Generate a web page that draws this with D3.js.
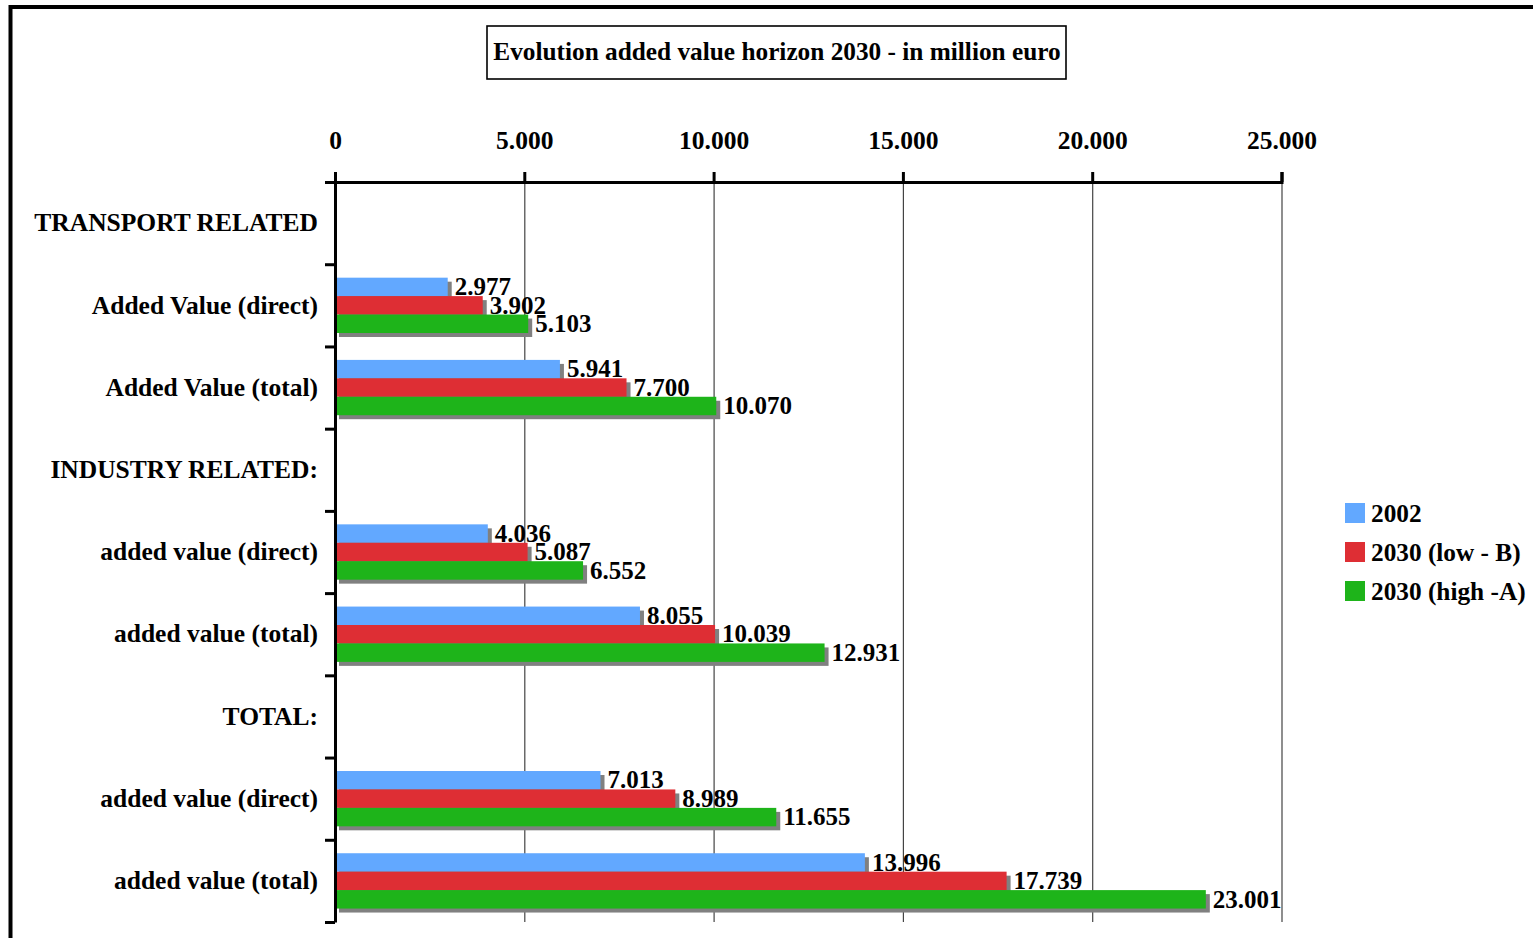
<!DOCTYPE html>
<html>
<head>
<meta charset="utf-8">
<script src="https://cdn.jsdelivr.net/npm/d3@7"></script>
<style>
  html, body { margin: 0; padding: 0; background: #fff; }
  svg { display: block; }
  text { font-family: "Liberation Serif", "Times New Roman", serif; font-weight: bold; fill: #000; }
</style>
</head>
<body>
<svg id="chart" width="1533" height="938"></svg>
<script>
// Row labels (top to bottom); header rows carry no bars
const categories = [
  "TRANSPORT RELATED",
  "Added Value (direct)",
  "Added Value (total)",
  "INDUSTRY RELATED:",
  "added value (direct)",
  "added value (total)",
  "TOTAL:",
  "added value (direct)",
  "added value (total)"
];
const seriesNames = ["2002", "2030 (low - B)", "2030 (high -A)"];
const values2002 = [null, 2977, 5941, null, 4036, 8055, null, 7013, 13996];
const valuesLow  = [null, 3902, 7700, null, 5087, 10039, null, 8989, 17739];
const valuesHigh = [null, 5103, 10070, null, 6552, 12931, null, 11655, 23001];
const xTicks = [0, 5000, 10000, 15000, 20000, 25000];
const titleText = "Evolution added value horizon 2030 - in million euro";

const seriesValues = [values2002, valuesLow, valuesHigh];
const colors = ["#62a8ff", "#de2e34", "#1eb41a"];

const svg = d3.select("#chart");

// European number format: 12.931
const fmt = d3.formatLocale({ decimal: ",", thousands: ".", grouping: [3], currency: ["", " €"] }).format(",d");

// Outer chart frame
svg.append("rect")
  .attr("x", 10.5).attr("y", 7)
  .attr("width", 1600).attr("height", 1000)
  .attr("fill", "none").attr("stroke", "#000").attr("stroke-width", 4);

// Title box
const tg = svg.append("g");
tg.append("rect")
  .attr("x", 487).attr("y", 26).attr("width", 579).attr("height", 53)
  .attr("fill", "#fff").attr("stroke", "#000").attr("stroke-width", 1.6);
tg.append("text")
  .attr("x", 777).attr("y", 60)
  .attr("text-anchor", "middle")
  .attr("font-size", 25.3)
  .text(titleText);

// Plot geometry
const plotLeft = 335, plotRight = 1281.5, plotTop = 182, plotBottom = 922;

const x = d3.scaleLinear().domain([0, 25000]).range([plotLeft, plotRight]);
const idx = d3.range(categories.length);
const y = d3.scaleBand().domain(idx).range([plotTop, plotBottom]).padding(0);
const ySeries = d3.scaleBand().domain(d3.range(seriesNames.length))
  .range([0, y.bandwidth()]).paddingInner(0).paddingOuter(0.73);
const yEdges = d3.scaleLinear().domain([0, categories.length]).range([plotTop, plotBottom]);

// Vertical gridlines
svg.append("g")
  .attr("transform", `translate(0,${plotTop})`)
  .call(d3.axisTop(x).tickValues(xTicks).tickSize(-(plotBottom - plotTop)).tickFormat(""))
  .call(g => g.select(".domain").remove())
  .call(g => g.selectAll("line").attr("stroke", "#444").attr("stroke-width", 1.2));

// Bars with drop shadows, one series at a time
const shadow = 4;
seriesValues.forEach((vals, s) => {
  const data = idx.filter(i => vals[i] != null).map(i => ({ i, v: vals[i] }));
  const g = svg.append("g");
  g.selectAll("rect.shadow").data(data).join("rect")
    .attr("class", "shadow")
    .attr("x", x(0) + shadow)
    .attr("y", d => y(d.i) + ySeries(s) + shadow)
    .attr("width", d => x(d.v) - x(0))
    .attr("height", ySeries.bandwidth())
    .attr("fill", "#808080");
  g.selectAll("rect.bar").data(data).join("rect")
    .attr("class", "bar")
    .attr("x", x(0))
    .attr("y", d => y(d.i) + ySeries(s))
    .attr("width", d => x(d.v) - x(0))
    .attr("height", ySeries.bandwidth())
    .attr("fill", colors[s]);
});

// Value labels
seriesValues.forEach((vals, s) => {
  const data = idx.filter(i => vals[i] != null).map(i => ({ i, v: vals[i] }));
  svg.append("g").selectAll("text").data(data).join("text")
    .attr("x", d => x(d.v) + 7)
    .attr("y", d => y(d.i) + ySeries(s) + ySeries.bandwidth() - 1)
    .attr("font-size", 25)
    .text(d => fmt(d.v));
});

// Top value axis
svg.append("g")
  .attr("transform", `translate(0,${plotTop})`)
  .call(d3.axisTop(x).tickValues(xTicks).tickFormat(fmt).tickSize(10).tickPadding(23))
  .call(g => g.select(".domain").attr("stroke", "#000").attr("stroke-width", 3))
  .call(g => g.selectAll(".tick line").attr("stroke", "#000").attr("stroke-width", 3))
  .call(g => g.selectAll(".tick text")
    .attr("font-family", "Liberation Serif, Times New Roman, serif")
    .attr("font-weight", "bold").attr("font-size", 25.5).attr("fill", "#000"));

// Category axis: boundary ticks
svg.append("g")
  .attr("transform", `translate(${plotLeft},0)`)
  .call(d3.axisLeft(yEdges).tickValues(d3.range(categories.length + 1)).tickFormat("").tickSizeInner(10).tickSizeOuter(0))
  .call(g => g.select(".domain").attr("stroke", "#000").attr("stroke-width", 3))
  .call(g => g.selectAll(".tick line").attr("stroke", "#000").attr("stroke-width", 3));

// Category labels
svg.append("g")
  .attr("transform", `translate(${plotLeft},0)`)
  .call(d3.axisLeft(y).tickFormat(i => categories[i]).tickSize(0).tickPadding(17))
  .call(g => g.select(".domain").remove())
  .call(g => g.selectAll(".tick text")
    .attr("font-family", "Liberation Serif, Times New Roman, serif")
    .attr("font-weight", "bold").attr("font-size", 25.5).attr("fill", "#000")
    .attr("dy", "0.32em"));

// Legend
const legend = svg.append("g").attr("transform", "translate(1345,503)");
const row = legend.selectAll("g").data(seriesNames).join("g")
  .attr("transform", (d, i) => `translate(0,${i * 39})`);
row.append("rect").attr("width", 20).attr("height", 20).attr("fill", (d, i) => colors[i]);
row.append("text").attr("x", 26).attr("y", 19).attr("font-size", 25.3).text(d => d);
</script>
</body>
</html>
